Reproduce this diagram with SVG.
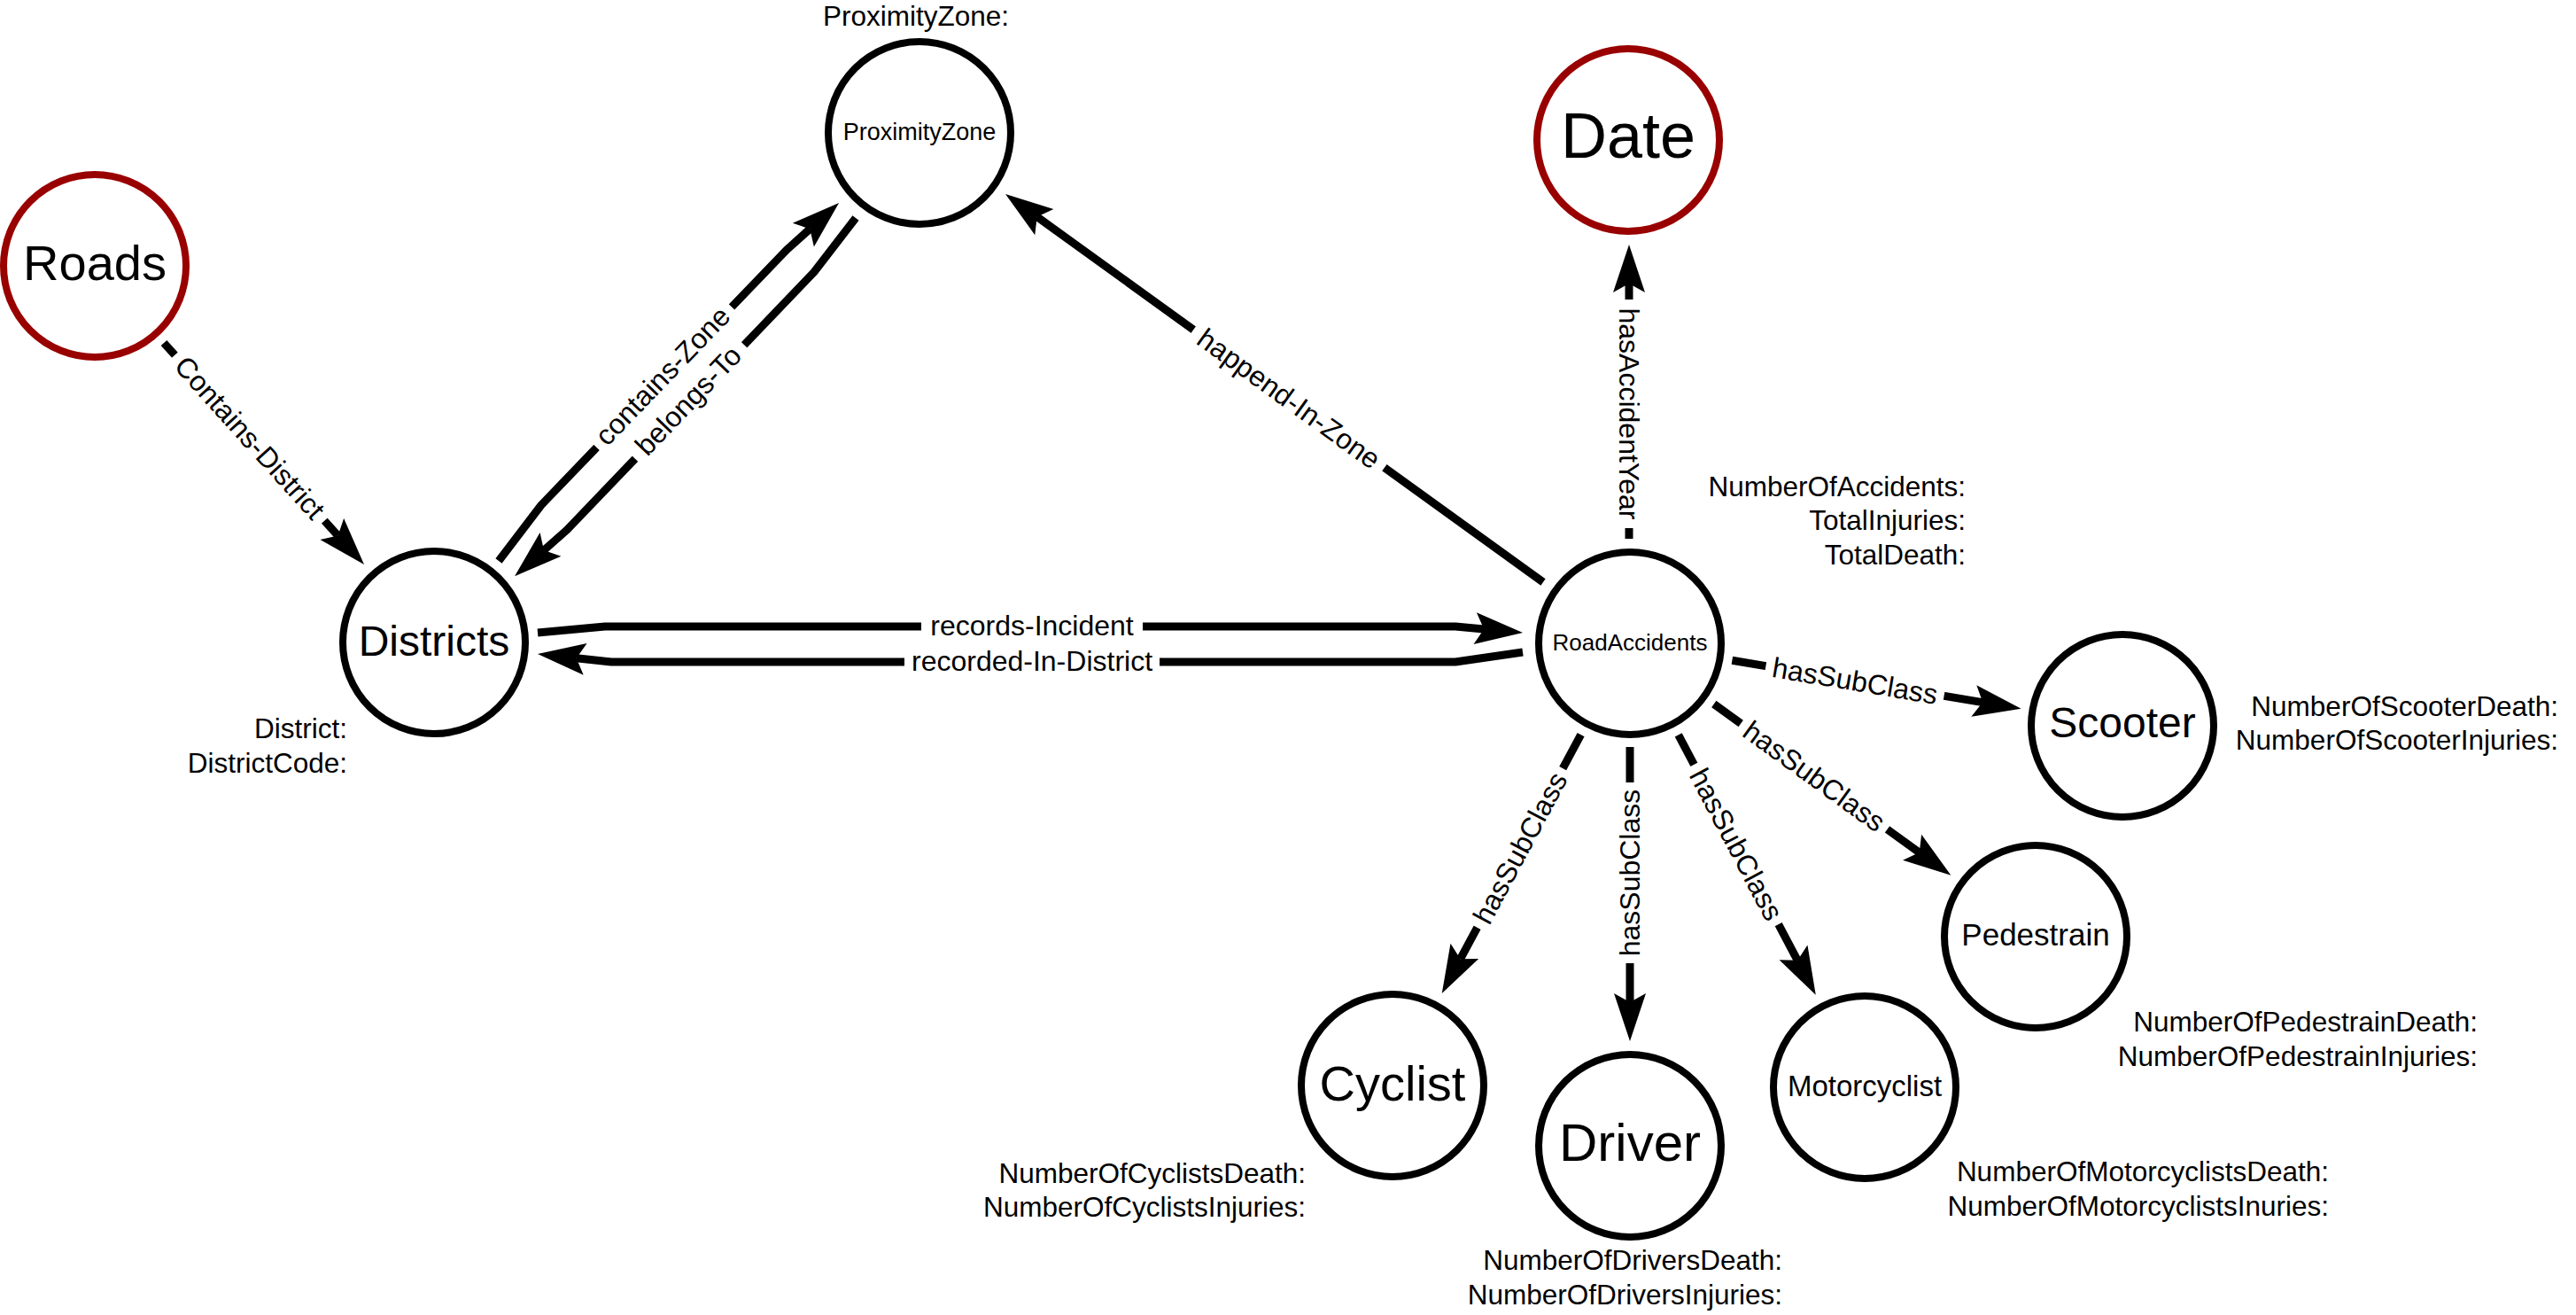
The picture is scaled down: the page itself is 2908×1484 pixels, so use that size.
<svg xmlns="http://www.w3.org/2000/svg" width="2908" height="1484" viewBox="0 0 2908 1484">
<style>
.n{fill:#fff;stroke:#000;stroke-width:8}
.r{stroke:#990000}
.t{font-family:"Liberation Sans",Arial,sans-serif;fill:#000;text-anchor:middle}
.p{font-family:"Liberation Sans",Arial,sans-serif;fill:#000;text-anchor:end;font-size:31.5px}
.e{fill:none;stroke:#000;stroke-width:9;stroke-linejoin:round}
.lb{fill:#fff}
.lt{font-family:"Liberation Sans",Arial,sans-serif;font-size:32px;fill:#000;text-anchor:middle}
</style>
<defs>
<marker id="ah" markerUnits="userSpaceOnUse" orient="auto" viewBox="-12 -20 58 40" markerWidth="58" markerHeight="40" refX="0" refY="0">
<path d="M44,0 L-10,-18 L0,0 L-10,18 Z" fill="#000"/>
</marker>
</defs>
<rect width="2908" height="1484" fill="#fff"/>
<g id="connectors">
<path class="e" d="M185,387 L381.5,604.4" marker-end="url(#ah)"/>
<path class="e" d="M563,633 L611,570 L888,282 L914.3,258.4" marker-end="url(#ah)"/>
<path class="e" d="M966,246 L919,307 L640,598 L614,621" marker-end="url(#ah)"/>
<path class="e" d="M1742,657 L1170.7,244.7" marker-end="url(#ah)"/>
<path class="e" d="M1839,608 L1839,320" marker-end="url(#ah)"/>
<path class="e" d="M607,714 L683,707 L1643,707 L1675.2,710" marker-end="url(#ah)"/>
<path class="e" d="M1719,736 L1643,747 L690,747 L650.7,742.7" marker-end="url(#ah)"/>
<path class="e" d="M1955.4,745.3 L2238.2,792.6" marker-end="url(#ah)"/>
<path class="e" d="M1934.8,794.5 L2166.7,962.1" marker-end="url(#ah)"/>
<path class="e" d="M1894.7,829.4 L2029.2,1083.8" marker-end="url(#ah)"/>
<path class="e" d="M1840,843 L1840,1131" marker-end="url(#ah)"/>
<path class="e" d="M1784.6,829.1 L1648.6,1082.2" marker-end="url(#ah)"/>
<g id="edge-labels">
<g transform="translate(282,494) rotate(47.9)"><rect class="lb" x="-126" y="-17" width="252" height="34"/><text class="lt" y="11">Contains-District</text></g>
<g transform="translate(748,424) rotate(-46.1)"><rect class="lb" x="-110" y="-17" width="220" height="34"/><text class="lt" y="11">contains-Zone</text></g>
<g transform="translate(777,452) rotate(-46.2)"><rect class="lb" x="-89" y="-17" width="178" height="34"/><text class="lt" y="11">belongs-To</text></g>
<g transform="translate(1455,450) rotate(35.8)"><rect class="lb" x="-133" y="-17" width="266" height="34"/><text class="lt" y="11">happend-In-Zone</text></g>
<g transform="translate(1839,467) rotate(90)"><rect class="lb" x="-129" y="-17" width="258" height="34"/><text class="lt" y="11">hasAccidentYear</text></g>
<g transform="translate(1165,707)"><rect class="lb" x="-125" y="-17" width="250" height="34"/><text class="lt" y="10">records-Incident</text></g>
<g transform="translate(1165,747)"><rect class="lb" x="-144" y="-17" width="288" height="34"/><text class="lt" y="10">recorded-In-District</text></g>
<g transform="translate(2094,768.5) rotate(9.5)"><rect class="lb" x="-102" y="-17" width="204" height="34"/><text class="lt" y="11">hasSubClass</text></g>
<g transform="translate(2048,876) rotate(35.9)"><rect class="lb" x="-102" y="-17" width="204" height="34"/><text class="lt" y="11">hasSubClass</text></g>
<g transform="translate(1960,953) rotate(62.1)"><rect class="lb" x="-102" y="-17" width="204" height="34"/><text class="lt" y="11">hasSubClass</text></g>
<g transform="translate(1840,985) rotate(-90)"><rect class="lb" x="-102" y="-17" width="204" height="34"/><text class="lt" y="11">hasSubClass</text></g>
<g transform="translate(1716,957) rotate(-61.8)"><rect class="lb" x="-102" y="-17" width="204" height="34"/><text class="lt" y="11">hasSubClass</text></g>
</g>
</g>
<g id="node-roads"><circle class="n r" cx="107" cy="300" r="103"/><text class="t" x="107" y="316" font-size="56">Roads</text></g>
<g id="node-proximityzone"><circle class="n" cx="1038" cy="150" r="103"/><text class="t" x="1038" y="158" font-size="27">ProximityZone</text><text class="t" x="1034" y="29" font-size="31.5">ProximityZone:</text></g>
<g id="node-date"><circle class="n r" cx="1838" cy="158" r="103"/><text class="t" x="1838" y="178" font-size="72">Date</text></g>
<g id="node-districts"><circle class="n" cx="490" cy="725" r="103"/><text class="t" x="490" y="740" font-size="48">Districts</text><text class="p" x="392" y="833">District:</text><text class="p" x="392" y="872">DistrictCode:</text></g>
<g id="node-roadaccidents"><circle class="n" cx="1840" cy="726" r="103"/><text class="t" x="1840" y="734" font-size="26">RoadAccidents</text><text class="p" x="2219" y="560">NumberOfAccidents:</text><text class="p" x="2219" y="598">TotalInjuries:</text><text class="p" x="2219" y="637">TotalDeath:</text></g>
<g id="node-scooter"><circle class="n" cx="2396" cy="819" r="103"/><text class="t" x="2396" y="832" font-size="48">Scooter</text><text class="p" x="2888" y="808">NumberOfScooterDeath:</text><text class="p" x="2888" y="846">NumberOfScooterInjuries:</text></g>
<g id="node-pedestrain"><circle class="n" cx="2298" cy="1057" r="103"/><text class="t" x="2298" y="1067" font-size="35">Pedestrain</text><text class="p" x="2797" y="1164">NumberOfPedestrainDeath:</text><text class="p" x="2797" y="1203">NumberOfPedestrainInjuries:</text></g>
<g id="node-cyclist"><circle class="n" cx="1572" cy="1225" r="103"/><text class="t" x="1572" y="1242" font-size="56">Cyclist</text><text class="p" x="1474" y="1335">NumberOfCyclistsDeath:</text><text class="p" x="1474" y="1373">NumberOfCyclistsInjuries:</text></g>
<g id="node-driver"><circle class="n" cx="1840" cy="1293" r="103"/><text class="t" x="1840" y="1310" font-size="60">Driver</text><text class="p" x="2012" y="1433">NumberOfDriversDeath:</text><text class="p" x="2012" y="1472">NumberOfDriversInjuries:</text></g>
<g id="node-motorcyclist"><circle class="n" cx="2105" cy="1227" r="103"/><text class="t" x="2105" y="1237" font-size="33">Motorcyclist</text><text class="p" x="2629" y="1333">NumberOfMotorcyclistsDeath:</text><text class="p" x="2629" y="1372">NumberOfMotorcyclistsInuries:</text></g>
</svg>
